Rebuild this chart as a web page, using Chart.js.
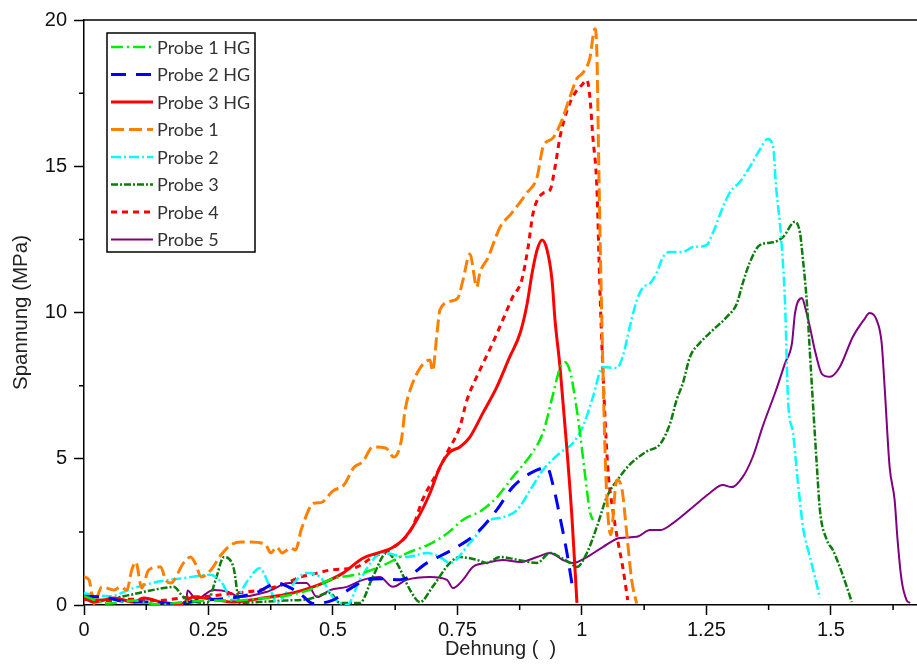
<!DOCTYPE html>
<html lang="de">
<head>
<meta charset="utf-8">
<title>Spannung / Dehnung</title>
<script src="https://cdn.jsdelivr.net/npm/chart.js@4.4.1/dist/chart.umd.min.js"></script>
<style>
  html, body { margin: 0; padding: 0; background: #fff; }
  #wrap { position: relative; width: 917px; height: 664px; }
</style>
</head>
<body>
<div id="wrap"><canvas id="stressChart"></canvas></div>
<script>
/* globals Chart:false */
'use strict'

const seriesNames = ['Probe 1 HG', 'Probe 2 HG', 'Probe 3 HG', 'Probe 1', 'Probe 2', 'Probe 3', 'Probe 4', 'Probe 5']

const xTicks = [0, 0.25, 0.5, 0.75, 1, 1.25, 1.5]
const xMinorTicks = [0.125, 0.375, 0.625, 0.875, 1.125, 1.375, 1.625]
const yTicks = [0, 5, 10, 15, 20]
const yMinorTicks = [2.5, 7.5, 12.5, 17.5]

// Probe 1 HG
const hg1X = [0, 0.05, 0.1, 0.15, 0.2, 0.25, 0.3, 0.35, 0.4, 0.45, 0.5, 0.55, 0.6, 0.65, 0.69, 0.73, 0.76, 0.8, 0.83, 0.86, 0.9, 0.922, 0.942, 0.956, 0.966, 0.976, 0.986, 0.996, 1.006, 1.016, 1.022]
const hg1Y = [0.3, 0.05, 0.15, 0.02, 0.1, 0.15, 0.15, 0.22, 0.3, 0.5, 0.9, 1.05, 1.35, 1.78, 2.05, 2.45, 2.9, 3.25, 3.7, 4.35, 5.2, 5.9, 7.2, 8.1, 8.3, 8.0, 7.1, 5.9, 4.5, 3.2, 2.9]

// Probe 2 HG
const hg2X = [0, 0.04, 0.09, 0.134, 0.18, 0.247, 0.3, 0.35, 0.387, 0.413, 0.44, 0.46, 0.5, 0.534, 0.568, 0.6, 0.635, 0.689, 0.749, 0.789, 0.829, 0.861, 0.896, 0.93, 0.942, 0.956, 0.97, 0.982]
const hg2Y = [0.3, 0.27, 0.1, 0.1, 0.05, 0.17, 0.25, 0.45, 0.75, 0.6, 0.3, 0.05, 0.17, 0.55, 0.86, 0.9, 0.86, 1.44, 1.98, 2.46, 3.25, 4.03, 4.5, 4.7, 4.1, 3.0, 1.78, 0.51]

// Probe 3 HG
const hg3X = [0, 0.02, 0.06, 0.1, 0.12, 0.16, 0.19, 0.22, 0.267, 0.3, 0.335, 0.36, 0.4, 0.44, 0.48, 0.52, 0.56, 0.594, 0.618, 0.64, 0.668, 0.695, 0.715, 0.735, 0.755, 0.775, 0.801, 0.829, 0.855, 0.876, 0.89, 0.9, 0.91, 0.92, 0.93, 0.94, 0.946, 0.956, 0.97, 0.98, 0.99]
const hg3Y = [0.24, 0.1, 0.24, 0.1, 0.24, 0.07, 0.0, 0.27, 0.17, 0.1, 0.17, 0.24, 0.34, 0.51, 0.75, 1.09, 1.6, 1.8, 1.95, 2.22, 2.9, 3.83, 4.72, 5.23, 5.4, 5.74, 6.56, 7.45, 8.48, 9.3, 10.3, 11.35, 12.14, 12.48, 12.14, 11.1, 9.74, 8.14, 5.3, 3.0, 0.07]

// Probe 1
const p1X = [0, 0.01, 0.02, 0.036, 0.06, 0.074, 0.086, 0.096, 0.104, 0.116, 0.13, 0.154, 0.164, 0.174, 0.2, 0.214, 0.225, 0.235, 0.255, 0.275, 0.295, 0.315, 0.335, 0.365, 0.375, 0.387, 0.398, 0.415, 0.425, 0.436, 0.462, 0.476, 0.5, 0.522, 0.542, 0.56, 0.58, 0.606, 0.622, 0.637, 0.645, 0.655, 0.675, 0.695, 0.7, 0.709, 0.715, 0.74, 0.751, 0.761, 0.775, 0.789, 0.795, 0.811, 0.825, 0.835, 0.859, 0.889, 0.91, 0.922, 0.942, 0.96, 0.976, 0.99, 1.002, 1.016, 1.026, 1.03, 1.034, 1.04, 1.048, 1.058, 1.07, 1.08, 1.09, 1.1, 1.11]
const p1Y = [0.96, 0.86, 0.05, 0.62, 0.51, 0.62, 0.51, 1.2, 1.47, 0.58, 1.2, 1.3, 0.86, 0.75, 1.44, 1.64, 1.37, 0.96, 1.2, 1.71, 2.05, 2.15, 2.15, 2.05, 1.78, 1.98, 1.78, 1.95, 1.88, 2.56, 3.48, 3.5, 3.9, 4.1, 4.7, 4.9, 5.4, 5.37, 5.06, 5.6, 6.67, 7.35, 8.1, 8.38, 8.0, 9.3, 10.1, 10.4, 10.5, 11.1, 12.0, 10.87, 11.35, 11.86, 12.48, 12.9, 13.4, 14.08, 14.63, 15.66, 15.97, 16.58, 17.37, 18.0, 18.19, 18.7, 19.7, 18.9, 14.9, 9.74, 4.5, 2.4, 4.27, 4.0, 2.46, 0.85, 0.05]

// Probe 2
const p2X = [0, 0.05, 0.1, 0.15, 0.2, 0.253, 0.275, 0.3, 0.33, 0.353, 0.37, 0.387, 0.415, 0.447, 0.474, 0.5, 0.528, 0.554, 0.6, 0.648, 0.689, 0.715, 0.735, 0.775, 0.815, 0.841, 0.87, 0.896, 0.922, 0.956, 0.982, 1.002, 1.022, 1.042, 1.07, 1.082, 1.096, 1.11, 1.122, 1.137, 1.15, 1.163, 1.177, 1.203, 1.223, 1.25, 1.263, 1.283, 1.297, 1.317, 1.337, 1.357, 1.373, 1.384, 1.39, 1.4, 1.408, 1.414, 1.424, 1.434, 1.444, 1.458, 1.468, 1.478]
const p2Y = [0.4, 0.3, 0.58, 0.8, 0.92, 1.03, 0.8, 0.17, 0.86, 1.26, 0.75, 0.07, 0.62, 1.09, 0.96, 0.27, 0.0, 0.86, 1.78, 1.64, 1.78, 1.64, 1.44, 2.12, 2.9, 3.0, 3.25, 3.93, 4.62, 5.2, 5.54, 6.1, 7.1, 8.14, 8.1, 8.5, 9.5, 10.4, 10.84, 11.0, 11.35, 11.9, 12.07, 12.07, 12.24, 12.3, 12.72, 13.6, 14.1, 14.46, 14.97, 15.56, 15.93, 15.66, 14.3, 12.58, 10.3, 7.0, 5.88, 4.17, 2.67, 1.64, 0.96, 0.24]

// Probe 3
const p3X = [0, 0.032, 0.08, 0.12, 0.16, 0.18, 0.2, 0.247, 0.265, 0.281, 0.3, 0.313, 0.35, 0.4, 0.45, 0.494, 0.514, 0.554, 0.58, 0.608, 0.628, 0.655, 0.675, 0.7, 0.735, 0.755, 0.789, 0.809, 0.835, 0.87, 0.91, 0.936, 0.956, 0.976, 0.99, 1.01, 1.03, 1.05, 1.076, 1.096, 1.13, 1.157, 1.177, 1.19, 1.203, 1.217, 1.237, 1.263, 1.291, 1.311, 1.323, 1.337, 1.357, 1.384, 1.404, 1.428, 1.438, 1.444, 1.452, 1.458, 1.464, 1.472, 1.478, 1.492, 1.504, 1.518, 1.532, 1.542]
const p3Y = [0.27, 0.17, 0.3, 0.45, 0.58, 0.62, 0.27, 0.07, 0.9, 1.64, 1.3, 0.07, 0.1, 0.15, 0.2, 0.41, 0.07, 0.07, 0.96, 1.78, 1.44, 0.51, 0.1, 0.62, 1.44, 1.64, 1.54, 1.44, 1.64, 1.55, 1.44, 1.78, 1.64, 1.44, 1.3, 1.78, 2.67, 3.69, 4.38, 4.8, 5.25, 5.5, 6.2, 7.0, 7.6, 8.48, 8.96, 9.4, 9.85, 10.3, 11.0, 11.7, 12.3, 12.4, 12.58, 13.1, 12.72, 11.8, 10.3, 8.6, 6.9, 4.72, 3.25, 2.22, 1.88, 1.3, 0.62, 0.1]

// Probe 4
const p4X = [0, 0.05, 0.1, 0.15, 0.2, 0.25, 0.3, 0.35, 0.4, 0.436, 0.468, 0.496, 0.548, 0.58, 0.62, 0.66, 0.68, 0.715, 0.729, 0.755, 0.769, 0.795, 0.821, 0.841, 0.861, 0.879, 0.892, 0.902, 0.922, 0.936, 0.946, 0.956, 0.97, 0.986, 1.0, 1.01, 1.016, 1.022, 1.03, 1.036, 1.042, 1.052, 1.062, 1.072, 1.082, 1.092]
const p4Y = [0.2, 0.15, 0.2, 0.15, 0.25, 0.3, 0.4, 0.5, 0.7, 0.96, 1.09, 1.2, 1.3, 1.64, 1.95, 2.67, 3.6, 4.7, 5.2, 6.1, 7.0, 8.03, 8.96, 9.74, 10.53, 11.1, 12.24, 13.4, 14.08, 14.19, 14.97, 16.0, 16.9, 17.5, 17.78, 17.95, 17.37, 16.0, 14.3, 10.87, 8.1, 4.7, 3.25, 2.2, 1.3, 0.17]

// Probe 5
const p5X = [0.205, 0.208, 0.225, 0.26, 0.29, 0.313, 0.367, 0.413, 0.447, 0.468, 0.494, 0.528, 0.56, 0.594, 0.62, 0.648, 0.695, 0.729, 0.741, 0.761, 0.781, 0.809, 0.841, 0.876, 0.91, 0.936, 0.962, 0.982, 1.01, 1.042, 1.076, 1.11, 1.137, 1.157, 1.183, 1.223, 1.257, 1.283, 1.301, 1.323, 1.343, 1.363, 1.39, 1.408, 1.422, 1.428, 1.442, 1.448, 1.458, 1.468, 1.482, 1.498, 1.518, 1.544, 1.566, 1.578, 1.592, 1.602, 1.608, 1.618, 1.628, 1.634, 1.642, 1.652, 1.659]
const p5Y = [0.05, 0.5, 0.2, 0.51, 0.45, 0.27, 0.45, 0.75, 0.75, 0.27, 0.51, 0.62, 0.86, 0.96, 0.62, 0.86, 0.96, 0.86, 0.58, 0.86, 1.3, 1.44, 1.54, 1.47, 1.64, 1.78, 1.54, 1.44, 1.64, 1.98, 2.29, 2.33, 2.56, 2.56, 2.8, 3.35, 3.83, 4.1, 4.03, 4.38, 5.06, 6.1, 7.35, 8.27, 8.96, 9.98, 10.5, 10.2, 9.5, 8.7, 7.9, 7.8, 8.14, 9.16, 9.74, 9.98, 9.74, 8.96, 7.45, 4.72, 3.6, 2.22, 0.86, 0.17, 0.07]

const seriesX = [hg1X, hg2X, hg3X, p1X, p2X, p3X, p4X, p5X]
const seriesY = [hg1Y, hg2Y, hg3Y, p1Y, p2Y, p3Y, p4Y, p5Y]

// line styles, same order as seriesNames
const lineStyles = [
  { color: '#00ee00', dash: [12, 4, 2, 4], width: 2.5 },
  { color: '#0000ff', dash: [15, 10], width: 3 },
  { color: '#ff0000', dash: [], width: 3 },
  { color: '#ff8000', dash: [13, 5], width: 3 },
  { color: '#00ffff', dash: [10, 3, 2, 3], width: 2.5 },
  { color: '#0a7d0a', dash: [7, 2, 2, 2], width: 2.5 },
  { color: '#ff0000', dash: [6, 5], width: 3 },
  { color: '#800080', dash: [], width: 2 }
]

;(() => {
  const chartElement = document.getElementById('stressChart')

  Chart.defaults.font.family = "'Liberation Sans', Arial, sans-serif"
  Chart.defaults.color = '#222'

  const minorTicks = {
    id: 'minorTicks',
    afterDraw (chart) {
      const { ctx, chartArea, scales } = chart
      ctx.save()
      ctx.strokeStyle = '#000'
      ctx.lineWidth = 1.5
      ctx.beginPath()
      xMinorTicks.forEach(v => {
        const px = scales.x.getPixelForValue(v)
        ctx.moveTo(px, chartArea.bottom)
        ctx.lineTo(px, chartArea.bottom + 5)
      })
      yMinorTicks.forEach(v => {
        const py = scales.y.getPixelForValue(v)
        ctx.moveTo(chartArea.left, py)
        ctx.lineTo(chartArea.left - 5, py)
      })
      // frame line on top
      ctx.moveTo(chartArea.left, chartArea.top)
      ctx.lineTo(chartArea.right, chartArea.top)
      ctx.stroke()
      ctx.restore()
    }
  }

  const legendBox = {
    id: 'legendBox',
    afterDatasetsDraw (chart) {
      const { ctx, chartArea } = chart
      const x0 = chartArea.left + 23
      const y0 = chartArea.top + 13
      const rowH = 27.5
      ctx.save()
      ctx.fillStyle = '#fff'
      ctx.fillRect(x0, y0, 148, 219)
      ctx.strokeStyle = '#000'
      ctx.lineWidth = 1.5
      ctx.strokeRect(x0, y0, 148, 219)
      ctx.font = "18px Lato, 'Liberation Sans', sans-serif"
      ctx.textBaseline = 'middle'
      chart.data.datasets.forEach((ds, i) => {
        const y = y0 + 14 + i * rowH
        ctx.beginPath()
        ctx.setLineDash(ds.borderDash)
        ctx.strokeStyle = ds.borderColor
        ctx.lineWidth = ds.borderWidth
        ctx.moveTo(x0 + 4, y)
        ctx.lineTo(x0 + 46, y)
        ctx.stroke()
        ctx.setLineDash([])
        ctx.fillStyle = '#333'
        ctx.fillText(ds.label, x0 + 50, y + 1)
      })
      ctx.restore()
    }
  }

  const datasets = seriesNames.map((name, i) => ({
    label: name,
    data: seriesX[i].map((x, j) => ({ x, y: seriesY[i][j] })),
    borderColor: lineStyles[i].color,
    backgroundColor: lineStyles[i].color,
    borderWidth: lineStyles[i].width,
    borderDash: lineStyles[i].dash,
    cubicInterpolationMode: 'monotone',
    pointRadius: 0,
    fill: false
  }))

  const axisGrid = {
    drawOnChartArea: false,
    drawTicks: true,
    tickLength: 10,
    tickColor: '#000',
    tickWidth: 1.5,
    color: '#000'
  }

  // eslint-disable-next-line no-unused-vars
  const stressChart = new Chart(chartElement, {
    type: 'line',
    data: { datasets },
    plugins: [minorTicks, legendBox],
    options: {
      responsive: true,
      maintainAspectRatio: false,
      animation: false,
      layout: { padding: { top: 20, right: 0, left: 0, bottom: 0 } },
      plugins: {
        legend: { display: false },
        tooltip: { enabled: false }
      },
      scales: {
        x: {
          type: 'linear',
          min: 0,
          max: 1.673,
          afterBuildTicks: scale => { scale.ticks = xTicks.map(value => ({ value })) },
          afterFit: scale => { scale.height = 59 },
          ticks: {
            padding: 3,
            color: '#111',
            font: { size: 20 },
            maxRotation: 0,
            callback: value => String(value)
          },
          grid: axisGrid,
          border: { color: '#000', width: 1.5 },
          title: {
            display: true,
            text: 'Dehnung (  )',
            color: '#222',
            font: { size: 20 },
            padding: { top: 0, bottom: 3 }
          }
        },
        y: {
          min: 0,
          max: 20,
          afterBuildTicks: scale => { scale.ticks = yTicks.map(value => ({ value })) },
          afterFit: scale => { scale.width = 84 },
          ticks: {
            padding: 7,
            color: '#111',
            font: { size: 20 },
            callback: value => String(value)
          },
          grid: axisGrid,
          border: { color: '#000', width: 1.5 },
          title: {
            display: true,
            text: 'Spannung (MPa)',
            color: '#222',
            font: { size: 20.5 },
            padding: { top: 9, bottom: 0 }
          }
        }
      }
    }
  })
})()
</script>
</body>
</html>
